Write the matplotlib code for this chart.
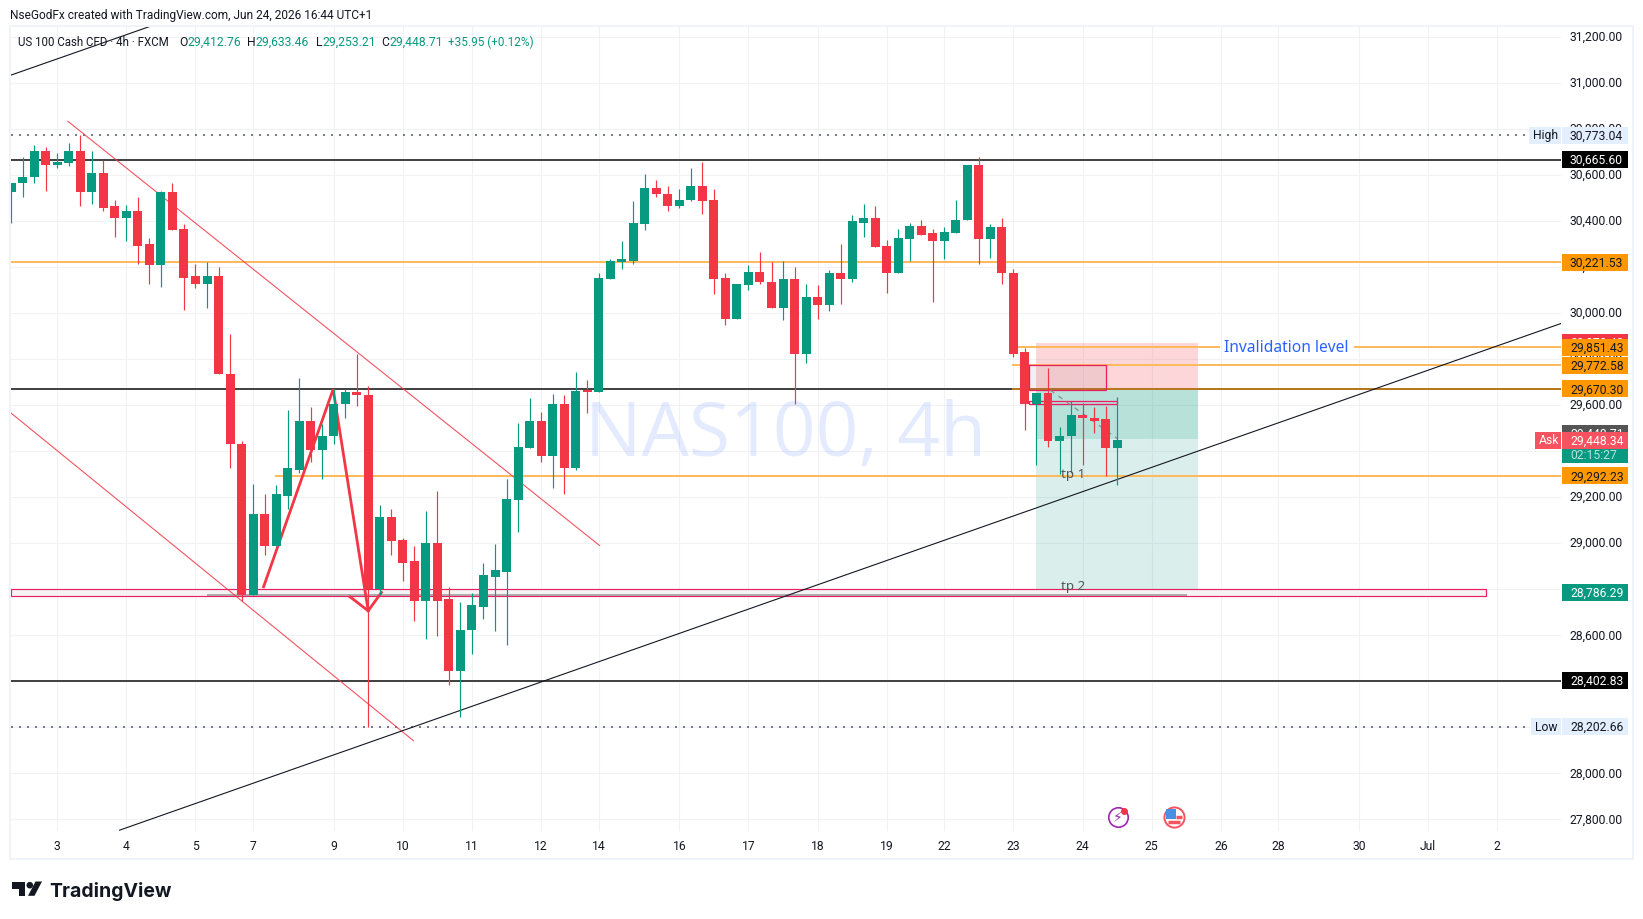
import matplotlib
matplotlib.use("Agg")
import numpy as np
import matplotlib.pyplot as plt
from matplotlib.patches import Rectangle, Polygon, Circle
from matplotlib.transforms import ScaledTranslation

# 4h candles
opens = [30525, 30563, 30589, 30706, 30645, 30650, 30702, 30524, 30610, 30463, 30411, 30445, 30298, 30207, 30524, 30363,
         30159, 30128, 30159, 29737, 29433, 28777, 29129, 28986, 29207, 29320, 29529, 29403, 29464, 29603, 29655, 29646,
         28800, 29112, 29012, 28921, 28751, 28999, 28756, 28444, 28621, 28725, 28855, 28877, 29190, 29412, 29533, 29377,
         29603, 29329, 29664, 29659, 30150, 30220, 30228, 30385, 30545, 30519, 30467, 30489, 30554, 30489, 30154, 29976,
         30120, 30180, 30137, 30020, 30146, 29824, 30068, 30037, 30176, 30150, 30393, 30415, 30293, 30176, 30320, 30380,
         30346, 30311, 30346, 30402, 30645, 30320, 30372, 30176, 29829, 29603, 29651, 29446, 29464, 29555, 29546, 29538,
         29412.76]
highs = [30567, 30676, 30728, 30723, 30697, 30737, 30773.04, 30706, 30663, 30493, 30471, 30506, 30328, 30528, 30567, 30385,
         30211, 30220, 30198, 29907, 29442, 29259, 29216, 29251, 29577, 29716, 29590, 29520, 29672, 29672, 29820, 29685,
         29168, 29147, 29021, 28990, 29138, 29229, 28808, 28743, 28782, 28916, 28995, 29281, 29524, 29629, 29568, 29650,
         29642, 29742, 29711, 30172, 30233, 30311, 30485, 30602, 30576, 30550, 30541, 30628, 30654, 30541, 30176, 30128,
         30207, 30263, 30220, 30224, 30202, 30128, 30120, 30189, 30302, 30424, 30472, 30467, 30319, 30363, 30393, 30402,
         30367, 30372, 30489, 30645, 30676, 30385, 30415, 30193, 29850, 29651, 29763, 29503, 29620, 29611, 29594, 29598,
         29633.46]
lows = [30389, 30502, 30563, 30528, 30628, 30637, 30463, 30472, 30445, 30332, 30315, 30211, 30128, 30115, 30359, 30015,
        30107, 30024, 29734, 29325, 28751, 28777, 28947, 28986, 29147, 29307, 29351, 29281, 29433, 29542, 29598, 28202.66,
        28774, 28951, 28834, 28664, 28586, 28596, 28386, 28247, 28517, 28669, 28617, 28560, 29051, 29412, 29355, 29242,
        29212, 29320, 29564, 29659, 30150, 30193, 30215, 30359, 30502, 30445, 30458, 30485, 30432, 30081, 29946, 29976,
        30098, 30124, 30020, 29968, 29607, 29785, 29972, 30011, 30041, 30137, 30332, 30289, 30085, 30176, 30224, 30341,
        30046, 30233, 30346, 30402, 30211, 30241, 30124, 29811, 29494, 29338, 29416, 29299, 29303, 29342, 29481, 29294,
        29253.21]
closes = [30567, 30593, 30706, 30645, 30654, 30702, 30524, 30610, 30458, 30411, 30445, 30293, 30207, 30524, 30359, 30154,
          30128, 30159, 29734, 29429, 28777, 29129, 28986, 29212, 29325, 29529, 29403, 29468, 29607, 29655, 29642, 28803,
          29112, 29008, 28916, 28751, 28999, 28751, 28444, 28625, 28730, 28860, 28882, 29194, 29416, 29533, 29377, 29603,
          29329, 29663, 29659, 30154, 30224, 30233, 30389, 30545, 30515, 30467, 30493, 30554, 30485, 30150, 29976, 30124,
          30180, 30133, 30020, 30146, 29824, 30068, 30037, 30176, 30150, 30398, 30415, 30289, 30176, 30324, 30380, 30341,
          30311, 30350, 30406, 30645, 30320, 30372, 30172, 29824, 29603, 29651, 29446, 29468, 29555, 29542, 29533, 29412,
          29448.71]

price_ticks = list(range(27800, 31201, 200))
date_positions = [4, 10, 16, 21, 28, 34, 40, 46, 51, 58, 64, 70, 76, 81, 87, 93, 99, 105, 110, 117, 123, 129]
date_labels = ["3", "4", "5", "7", "9", "10", "11", "12", "14", "16", "17", "18", "19", "22", "23", "24", "25", "26",
               "28", "30", "Jul", "2"]

high_level = 30773.04
low_level = 28202.66
black_levels = [30665.60, 29670.30, 28402.83]
orange_levels = [30221.53, 29851.43, 29772.58, 29670.30, 29292.23]
zone_level = 28786.29

GREEN = "#089981"
RED = "#f23645"
ORANGE = "#ff9800"
LINE_ORANGE = "#feba5c"
DARK = "#444444"
PINK = "#e91e63"
FONT = "Roboto"
W, H = 1643, 920
AX_L, AX_R, AX_T, AX_B = 10.7, 1561, 27, 832

plt.rcParams["font.family"] = FONT
fig = plt.figure(figsize=(W / 100, H / 100), dpi=100, facecolor="white")
ax = fig.add_axes([AX_L / W, 1 - AX_B / H, (AX_R - AX_L) / W, (AX_B - AX_T) / H])
ax.set_xlim(-0.04, 134.53)
ax.set_ylim(27750.0, 31246.9)
ax.set_axisbelow(True)
for s in ax.spines.values():
    s.set_visible(False)

ax.yaxis.tick_right()
ax.set_yticks(price_ticks)
ax.set_yticklabels([f"{v:,.2f}" for v in price_ticks])
ax.set_xticks(date_positions)
ax.set_xticklabels(date_labels)
ax.tick_params(axis="y", length=0, pad=6.2, labelsize=8.7, labelcolor="#131722")
ax.tick_params(axis="x", length=0, pad=5.5, labelsize=8.7, labelcolor="#131722")
ax.grid(True, color="#f1f2f4", linewidth=0.8)

# tick labels sit 2px high in the original
lift = ScaledTranslation(0, 2 / 100, fig.dpi_scale_trans)
for lab in ax.get_yticklabels():
    lab.set_transform(lab.get_transform() + lift)


def to_x(px):
    return (px - AX_L) / (AX_R - AX_L)


# watermark
ax.text(67.2, 29385.5, "NAS100, 4h", fontsize=54, color="#2962ff", alpha=0.12, ha="center", va="baseline",
        family="Open Sans", zorder=1)

# long/short position tool
ax.add_patch(Rectangle((88.93, 29670), 14.07, 200, facecolor=RED, alpha=0.2, lw=0, zorder=1.5))
ax.add_patch(Rectangle((88.93, 28782), 14.07, 888, facecolor=GREEN, alpha=0.15, lw=0, zorder=1.5))
ax.add_patch(Rectangle((88.93, 29452), 14.07, 218, facecolor=GREEN, alpha=0.16, lw=0, zorder=1.5))

# levels
ax.axhline(black_levels[0], color=DARK, lw=1.44, zorder=2)
ax.axhline(black_levels[1], color=DARK, lw=1.44, zorder=2)
ax.axhline(black_levels[2], color=DARK, lw=1.44, zorder=2)
ax.hlines(orange_levels[0], -0.04, 134.53, color=LINE_ORANGE, lw=1.44, zorder=2)
ax.hlines(orange_levels[1], 87.4, 104.9, color=LINE_ORANGE, lw=1.44, zorder=2)
ax.hlines(orange_levels[1], 116.6, 134.53, color=LINE_ORANGE, lw=1.44, zorder=2)
ax.hlines(orange_levels[2], 86.9, 134.53, color=LINE_ORANGE, lw=1.44, zorder=2)
ax.hlines(orange_levels[3], 86.9, 134.53, color="#b7771f", lw=1.44, zorder=2.1)
ax.hlines(orange_levels[4], 22.9, 134.53, color=LINE_ORANGE, lw=1.44, zorder=2)
ax.hlines(high_level, -0.04, 131.75, color="#787b86", lw=1.44, linestyles=[(0, (1, 3))], zorder=2)
ax.hlines(low_level, -0.04, 131.9, color="#787b86", lw=1.44, linestyles=[(0, (1, 3))], zorder=2)

# pink zone around 28,786
ax.add_patch(Rectangle((-0.04, 28771.6), 128.04, 29, facecolor="#f6f3f4", lw=0, zorder=1.8))
ax.hlines(28776, 17, 102.05, color="#9a9a9a", lw=1.1, zorder=2)
ax.add_patch(Rectangle((-0.04, 28771.6), 128.04, 29, fill=False, edgecolor=PINK, lw=0.85, zorder=2.05))

# small boxes near the last candles
ax.add_patch(Rectangle((88.35, 29665), 6.65, 108, facecolor="#8a5a6a", alpha=0.1, lw=0, zorder=2.2))
ax.add_patch(Rectangle((88.35, 29665), 6.65, 108, fill=False, edgecolor=PINK, lw=0.9, zorder=2.3))
ax.add_patch(Rectangle((88.35, 29605.8), 7.65, 13, fill=False, edgecolor=PINK, lw=0.9, zorder=2.3))
ax.plot([90.2, 96], [29665, 29455], color="#8c8c8c", lw=0.9, ls=(0, (4, 4)), zorder=2.3)

# trend lines
ax.plot([4.92, 51.08], [30833, 28990], color=RED, lw=0.8, alpha=0.85, zorder=2.4)
ax.plot([-0.04, 34.93], [29566.7, 28141.8], color=RED, lw=0.8, alpha=0.85, zorder=2.4)
ax.plot([9.41, 134.53], [27753.6, 29954.6], color="#131722", lw=0.8, zorder=2.4)
ax.plot([-0.04, 12.2], [31033.2, 31247.8], color="#131722", lw=0.8, zorder=2.4)

# hand drawn zigzag
ax.plot([21.91, 27.95, 30.99], [28810.8, 29669, 28706.6], color=RED, lw=2.0, zorder=2.5, solid_joinstyle="miter")
ax.plot([29.41, 30.99, 32.14], [28767.4, 28706.6, 28786], color=RED, lw=2.0, zorder=2.5, solid_joinstyle="miter")

# candles
x = np.arange(len(opens))
o = np.array(opens)
h = np.array(highs)
l = np.array(lows)
c = np.array(closes)
colors = [GREEN if cl > op else RED for op, cl in zip(o, c)]
ax.vlines(x, l, h, colors=colors, lw=0.85, zorder=4)
ax.bar(x, np.maximum(np.abs(c - o), 6), bottom=np.minimum(o, c), width=0.78, color=colors, linewidth=0, zorder=4.1)

# drawing labels
ax.text(110.7, 29851.43, "Invalidation level", color="#2962ff", fontsize=11.2, ha="center", va="center",
        family="Noto Sans", zorder=5)
ax.text(92.2, 29303, "tp 1", color="#555555", fontsize=9.6, fontweight="bold", ha="center", va="center",
        family="Noto Sans", zorder=5)
ax.text(92.2, 28818, "tp 2", color="#555555", fontsize=9.6, fontweight="bold", ha="center", va="center",
        family="Noto Sans", zorder=5)

# event icons on the time scale
ax.plot([96.05], [27808.7], "o", ms=14, mfc="white", mec="#9c27b0", mew=1.2, zorder=5)
ax.text(96.05, 27808.7, "\u26a1", color="#9c27b0", fontsize=10, ha="center", va="center", family="DejaVu Sans", zorder=6)
ax.plot([96.6], [27838], "o", ms=4, mfc=RED, mec=RED, zorder=6)
ax.plot([100.9], [27808.7], "o", ms=14.5, mfc="white", mec="#f7525f", mew=1.4, zorder=5)
ax.plot([100.9], [27787], "_", ms=8.6, color="#f7525f", mew=2.5, zorder=6)
ax.plot([101.4], [27809], "_", ms=4.5, color="#f7525f", mew=2.5, zorder=6)
ax.plot([100.67], [27824], "s", ms=6.5, mfc="#4a90e2", mec="#4a90e2", mew=0, zorder=6)

# price scale labels
trans = ax.get_yaxis_transform()


def price_box(price, text, face, color, left=1562, right=1627.7, text_x=1570, z=7):
    ax.add_patch(Rectangle((to_x(left), price - 37), to_x(right) - to_x(left), 74, transform=trans, facecolor=face,
                           lw=0, clip_on=False, zorder=z))
    ax.text(to_x(text_x), price + 7, text, transform=trans, color=color, fontsize=8.7, ha="left", va="center_baseline",
            clip_on=False, zorder=z + 0.1)


price_box(29870.48, "29,870.48", RED, "white", z=6.5)
price_box(29478, "29,448.71", "#555555", "white", z=6.5)
price_box(29448 - 63, "02:15:27", GREEN, "#b7e2da", z=6.6)
price_box(high_level, f"{high_level:,.2f}", "#e3effd", "#131722")
price_box(low_level, f"{low_level:,.2f}", "#e3effd", "#131722")
price_box(high_level, "High", "#e3effd", "#131722", left=1529, right=1561, text_x=1533)
price_box(low_level, "Low", "#e3effd", "#131722", left=1531, right=1561, text_x=1535)
for lv in black_levels[0], black_levels[2]:
    price_box(lv, f"{lv:,.2f}", "#000000", "white")
for lv in orange_levels:
    price_box(lv, f"{lv:,.2f}", ORANGE, "#131722")
price_box(zone_level, f"{zone_level:,.2f}", GREEN, "white")
price_box(29448.34, "29,448.34", "#f7525f", "white", z=8)
price_box(29448.34, "Ask", "#f7525f", "white", left=1535, right=1561, text_x=1539, z=8)

# frame round the whole chart
fig.add_artist(Rectangle((10 / W, 1 - 859.5 / H), 1623 / W, 832.5 / H, transform=fig.transFigure, fill=False,
                         edgecolor="#f0f3fa", lw=1.4))


def fig_text(px, py, s, color="#131722", **kw):
    kw.setdefault("fontsize", 8.7)
    fig.text(px / W, 1 - py / H, s, color=color, ha="left", va="center_baseline", **kw)


fig_text(10, 14, "NseGodFx created with TradingView.com, Jun 24, 2026 16:44 UTC+1", fontsize=8.6)

# OHLC legend row
fig_text(18, 41, "US 100 Cash CFD \u00b7 4h \u00b7 FXCM", zorder=9, fontsize=8.3)
fig_text(179, 41, "O")
fig_text(187, 41, f"{opens[-1]:,.2f}", color=GREEN)
fig_text(247.5, 41, "H")
fig_text(255, 41, f"{highs[-1]:,.2f}", color=GREEN)
fig_text(315.7, 41, "L")
fig_text(322, 41, f"{lows[-1]:,.2f}", color=GREEN)
fig_text(381.4, 41, "C")
fig_text(389, 41, f"{closes[-1]:,.2f}", color=GREEN)
fig_text(448, 41, "+35.95 (+0.12%)", color=GREEN, fontsize=8.5)

# TradingView logo
px_pts = lambda pts: [(a / W, 1 - b / H) for a, b in pts]
fig.add_artist(Polygon(px_pts([(12.3, 882.5), (25, 882.5), (25, 896.8), (18.5, 896.8), (18.5, 889.5), (12.3, 889.5)]),
                       closed=True, transform=fig.transFigure, facecolor="#131722", lw=0))
fig.add_artist(Polygon(px_pts([(35.5, 882.5), (42, 882.5), (34.5, 896.8), (28, 896.8)]),
                       closed=True, transform=fig.transFigure, facecolor="#131722", lw=0))
fig.add_artist(Circle((29.8 / 100, (H - 886.2) / 100), 3.3 / 100, transform=fig.dpi_scale_trans,
                      facecolor="#131722", lw=0))
fig.text(49.5 / W, 1 - 896.7 / H, "TradingView", color="#131722", fontsize=14, fontweight="bold", family="Inter",
         ha="left", va="baseline")

fig.savefig("out.png", dpi=100)
